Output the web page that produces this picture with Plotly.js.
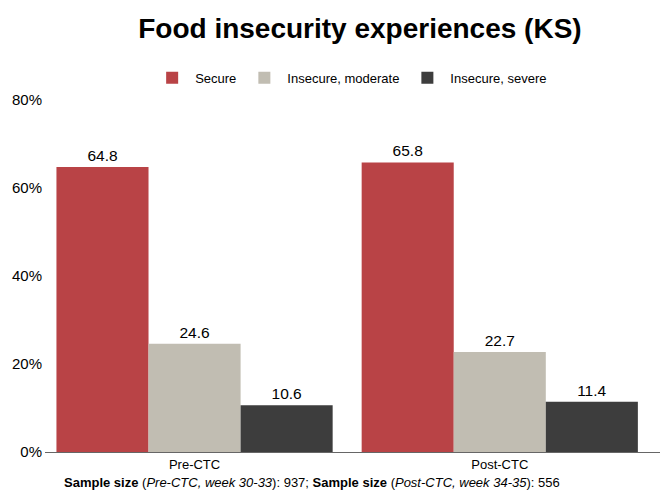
<!DOCTYPE html>
<html>
<head>
<meta charset="utf-8">
<script src="https://cdn.plot.ly/plotly-3.0.1.min.js"></script>
<style>
  html, body { margin: 0; padding: 0; background: #fff; }
  #chart { width: 669px; height: 491px; }
</style>
</head>
<body>
<div id="chart"></div>
<script>
// Food insecurity shares (%) before and after the CTC payments, Kansas
const periods = ["Pre-CTC", "Post-CTC"];
const secure = [64.8, 65.8];
const insecureModerate = [24.6, 22.7];
const insecureSevere = [10.6, 11.4];
const yTicks = [0, 20, 40, 60, 80];
const yTickLabels = ["0%", "20%", "40%", "60%", "80%"];
const sampleNote = "<b>Sample size</b> (<i>Pre-CTC, week 30-33</i>): 937; <b>Sample size</b> (<i>Post-CTC, week 34-35</i>): 556";

const FONT = "Liberation Sans, Arial, sans-serif";

function series(name, values, color) {
  return {
    type: "bar",
    name: name,
    x: periods,
    y: values,
    marker: { color: color, line: { width: 0 } },
    text: values.map(v => v.toFixed(1)),
    textposition: "outside",
    cliponaxis: false,
    textfont: { family: FONT, size: 15.5, color: "#000" },
    hoverinfo: "x+y+name"
  };
}

const data = [
  series("Secure", secure, "#B94346"),
  series("Insecure, moderate", insecureModerate, "#C1BDB2"),
  series("Insecure, severe", insecureSevere, "#3D3D3D")
];

const layout = {
  width: 669,
  height: 491,
  margin: { l: 45, r: 9, t: 100, b: 39 },
  paper_bgcolor: "#fff",
  plot_bgcolor: "#fff",
  font: { family: FONT, size: 14, color: "#000" },
  title: {
    text: "<b>Food insecurity experiences (KS)</b>",
    font: { family: FONT, size: 28, color: "#000" },
    x: 0.538, xanchor: "center",
    y: 0.943, yanchor: "middle"
  },
  barmode: "group",
  bargap: 0.095,
  bargroupgap: 0,
  showlegend: true,
  legend: {
    orientation: "h",
    x: 0.497, xanchor: "center",
    y: 1.063, yanchor: "middle",
    font: { family: FONT, size: 13, color: "#000" },
    itemwidth: 36,
    entrywidth: 0,
    traceorder: "normal"
  },
  xaxis: {
    type: "category",
    range: [-0.49, 1.525],
    showline: true,
    linecolor: "#666",
    linewidth: 1,
    ticks: "",
    showgrid: false,
    zeroline: false,
    tickfont: { family: FONT, size: 13, color: "#000" }
  },
  yaxis: {
    range: [0, 80],
    tickvals: yTicks,
    ticktext: yTickLabels,
    showgrid: false,
    zeroline: false,
    showline: false,
    ticks: "",
    ticklabelstandoff: 2,
    tickfont: { family: FONT, size: 15, color: "#000" }
  },
  annotations: [{
    text: sampleNote,
    xref: "paper", yref: "paper",
    x: 0.027, xanchor: "left",
    y: -0.088, yanchor: "middle",
    showarrow: false,
    font: { family: FONT, size: 13, color: "#000" }
  }]
};

Plotly.newPlot("chart", data, layout, { displayModeBar: false, staticPlot: true });
</script>
</body>
</html>
